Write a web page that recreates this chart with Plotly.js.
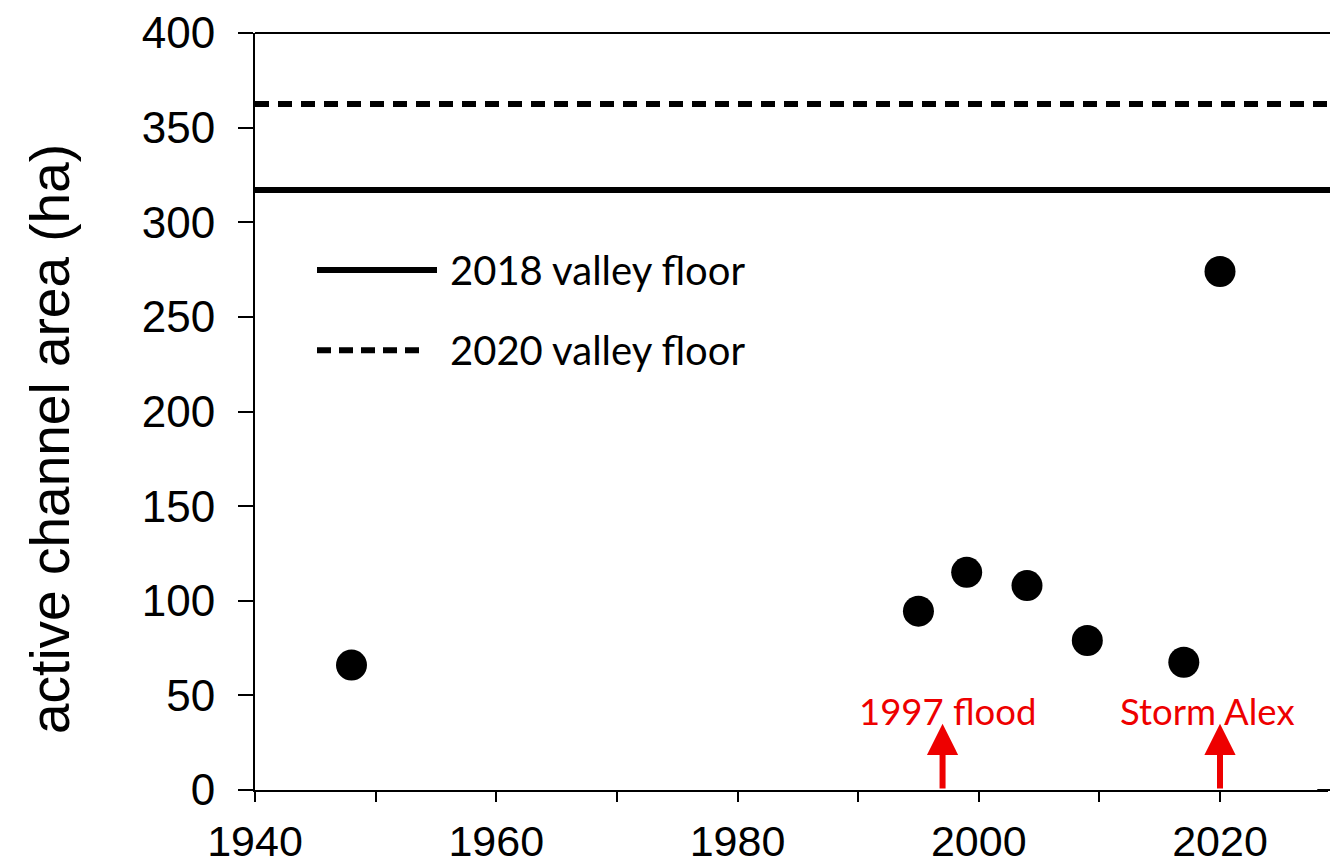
<!DOCTYPE html>
<html>
<head>
<meta charset="utf-8">
<script src="https://cdn.plot.ly/plotly-3.0.1.min.js"></script>
<style>html,body{margin:0;padding:0;background:#fff;overflow:hidden;}#chart{width:1330px;height:865px;}</style>
</head>
<body>
<div id="chart"></div>
<script>
// ---- data ----
const years = [1948, 1995, 1999, 2004, 2009, 2017, 2020];
const areas = [66, 94.5, 115, 108, 79, 67.5, 274];
const floor2018 = 317;
const floor2020 = 362.5;
const legendLabels = ["2018 valley floor", "2020 valley floor"];
const eventYears = [1997, 2020];
const eventLabels = ["1997 flood", "Storm Alex"];
const eventArrowTip = 35;
const xTickVals = [1940, 1950, 1960, 1970, 1980, 1990, 2000, 2010, 2020];
const xTickText = ["1940", "", "1960", "", "1980", "", "2000", "", "2020"];
const yTitle = "active channel area (ha)";

// ---- style ----
const ARIAL = "Liberation Sans, Arial, sans-serif";
const CAL = "Lato, Carlito, Calibri, sans-serif";
const RED = "#ee0000";

const trace = {
  x: years, y: areas, type: "scatter", mode: "markers",
  marker: {size: 31, color: "#000"}, showlegend: false, hoverinfo: "x+y"
};

const W = 1073; // plot width in px
const px = p => (p - 255) / W;

const shapes = [
  {type: "line", xref: "paper", yref: "paper", x0: 0, x1: 1.01, y0: 1, y1: 1,
   line: {color: "#000", width: 2}},
  {type: "line", xref: "paper", x0: 0, x1: 1.01, yref: "y", y0: floor2018, y1: floor2018,
   line: {color: "#000", width: 6}},
  {type: "line", xref: "paper", x0: 0, x1: 1.01, yref: "y", y0: floor2020, y1: floor2020,
   line: {color: "#000", width: 6, dash: "14px,9px"}},
  {type: "line", xref: "paper", yref: "paper", x0: px(317), x1: px(437), y0: 0.687, y1: 0.687,
   line: {color: "#000", width: 6}},
  {type: "line", xref: "paper", yref: "paper", x0: px(317), x1: px(420), y0: 0.581, y1: 0.581,
   line: {color: "#000", width: 6, dash: "14px,8px"}},
  {type: "line", xref: "paper", yref: "paper", x0: 0.99, x1: 1.01, y0: 0, y1: 0,
   line: {color: "#000", width: 2}}
];

const annotations = [];
annotations.push({xref: "paper", yref: "paper", x: px(50), y: 0.4637, xanchor: "center", yanchor: "middle",
  textangle: -90, text: yTitle, showarrow: false, font: {family: ARIAL, size: 55, color: "#000"}});
[0.687, 0.581].forEach((yp, i) => {
  annotations.push({xref: "paper", yref: "paper", x: px(448), y: yp, xanchor: "left", yanchor: "middle",
    text: legendLabels[i], showarrow: false, font: {family: CAL, size: 40, color: "#000"}});
});
const labelOffsets = [0.4, -1.0];
eventYears.forEach((yr, i) => {
  annotations.push({x: yr, y: eventArrowTip, ax: yr, ay: 0, axref: "x", ayref: "y", xref: "x", yref: "y",
    text: "", showarrow: true, arrowhead: 2, arrowsize: 1.04, arrowwidth: 6, arrowcolor: RED, standoff: 0});
  annotations.push({x: yr + labelOffsets[i], y: 42, xref: "x", yref: "y", xanchor: "center", yanchor: "middle",
    text: eventLabels[i], showarrow: false, font: {family: CAL, size: 36.5, color: RED}});
});

const layout = {
  width: 1330, height: 865,
  margin: {l: 255, r: 2, t: 33, b: 75, pad: 0},
  paper_bgcolor: "#fff", plot_bgcolor: "#fff",
  showlegend: false,
  xaxis: {
    range: [1940, 1940 + W / 12.0625], tickmode: "array", tickvals: xTickVals, ticktext: xTickText,
    ticks: "outside", ticklen: 10, tickwidth: 2, tickcolor: "#000",
    showline: true, linewidth: 2, linecolor: "#000",
    showgrid: false, zeroline: false, ticklabelstandoff: 2,
    tickfont: {family: ARIAL, size: 43, color: "#000"}
  },
  yaxis: {
    range: [0, 400], tickmode: "linear", tick0: 0, dtick: 50,
    ticks: "outside", ticklen: 15, tickwidth: 2, tickcolor: "#000",
    showline: true, linewidth: 2, linecolor: "#000",
    showgrid: false, zeroline: false, ticklabelstandoff: 14,
    tickfont: {family: ARIAL, size: 44, color: "#000"}
  },
  shapes: shapes,
  annotations: annotations
};

Plotly.newPlot("chart", [trace], layout, {displayModeBar: false, staticPlot: true});
</script>
</body>
</html>
